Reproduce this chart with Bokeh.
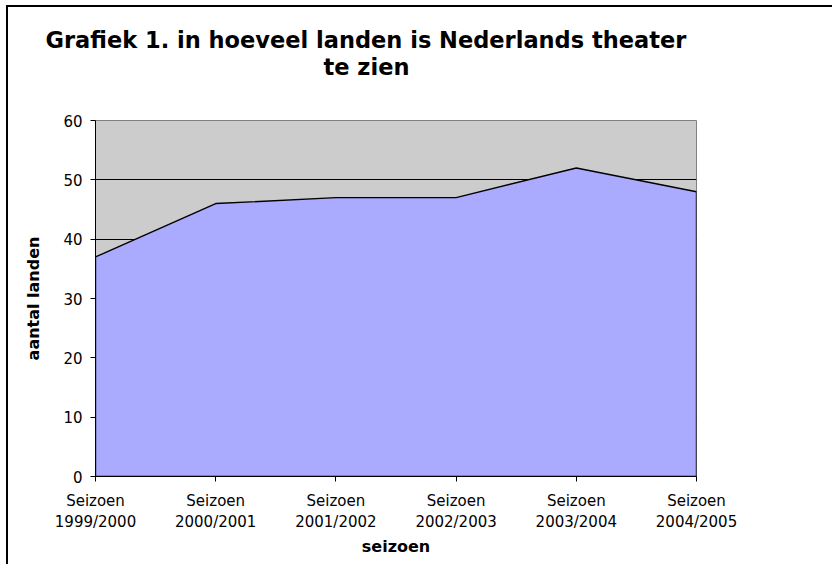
from bokeh.plotting import figure
from bokeh.models import Range1d, FixedTicker, Title, ColumnDataSource, InlineStyleSheet
from bokeh.embed import file_html
from bokeh.resources import INLINE

# Data
seizoenen = ["Seizoen\n1999/2000", "Seizoen\n2000/2001", "Seizoen\n2001/2002",
             "Seizoen\n2002/2003", "Seizoen\n2003/2004", "Seizoen\n2004/2005"]
aantal_landen = [37, 46, 47, 47, 52, 48]
y_ticks = [0, 10, 20, 30, 40, 50, 60]
grid_ticks = [10, 20, 30, 40, 50]
titel_regel_1 = "Grafiek 1. in hoeveel landen is Nederlands theater"
titel_regel_2 = "te zien"

FONT = "DejaVu Sans"

x_pos = list(range(len(seizoenen)))

p = figure(width=826, height=559, output_backend="svg", toolbar_location=None,
           x_range=Range1d(0, len(seizoenen) - 1), y_range=Range1d(0, 60),
           min_border_left=87, min_border_right=138, min_border_top=113,
           min_border_bottom=90, title=None)

p.background_fill_color = "#CCCCCC"
p.border_fill_color = "white"
p.outline_line_color = "#808080"
p.outline_line_width = 1

# area polygon
px = [x_pos[0]] + x_pos + [x_pos[-1]]
py = [0] + aantal_landen + [0]
src = ColumnDataSource(dict(x=px, y=py))
p.patch("x", "y", source=src, fill_color="#AAAAFF", line_color="black", line_width=1.4)

# grid
p.xgrid.visible = False
p.ygrid.ticker = FixedTicker(ticks=grid_ticks)
p.ygrid.grid_line_color = "black"
p.ygrid.grid_line_width = 1

# axes
p.xaxis.ticker = FixedTicker(ticks=x_pos)
p.xaxis.major_label_overrides = {i: s for i, s in zip(x_pos, seizoenen)}
p.yaxis.ticker = FixedTicker(ticks=y_ticks)
for ax in (p.xaxis[0], p.yaxis[0]):
    ax.axis_line_color = "black"
    ax.axis_line_width = 1
    ax.major_tick_line_color = "black"
    ax.major_tick_in = 0
    ax.major_tick_out = 5
    ax.minor_tick_line_color = None
    ax.major_label_text_font = FONT
    ax.major_label_text_font_size = "15px"
    ax.major_label_text_color = "black"
    ax.axis_label_text_font = FONT
    ax.axis_label_text_font_size = "16px"
    ax.axis_label_text_font_style = "bold"
    ax.axis_label_text_color = "black"

p.xaxis.axis_label = "seizoen"
p.yaxis.axis_label = "aantal landen"
p.xaxis.major_label_standoff = 10
p.yaxis.major_label_standoff = 8
p.xaxis.axis_label_standoff = 3
p.yaxis.axis_label_standoff = 17

# title: spacer, second line, first line (stacked upward from the frame)
spacer = Title(text=" ", text_font_size="1px", standoff=38)
t2 = Title(text=titel_regel_2, align="left", offset=228, text_font=FONT,
           text_font_size="22.5px", text_font_style="bold", text_color="black",
           standoff=0)
t1 = Title(text=titel_regel_1, align="left", offset=-50, text_font=FONT,
           text_font_size="22.5px", text_font_style="bold", text_color="black",
           standoff=-2)
p.add_layout(spacer, "above")
p.add_layout(t2, "above")
p.add_layout(t1, "above")

p.stylesheets = [InlineStyleSheet(css=":host { border-left: 2px solid black; border-top: 2px solid black; margin-left: 6px; margin-top: 5px; }")]

open("out.html", "w").write(file_html(p, INLINE))
